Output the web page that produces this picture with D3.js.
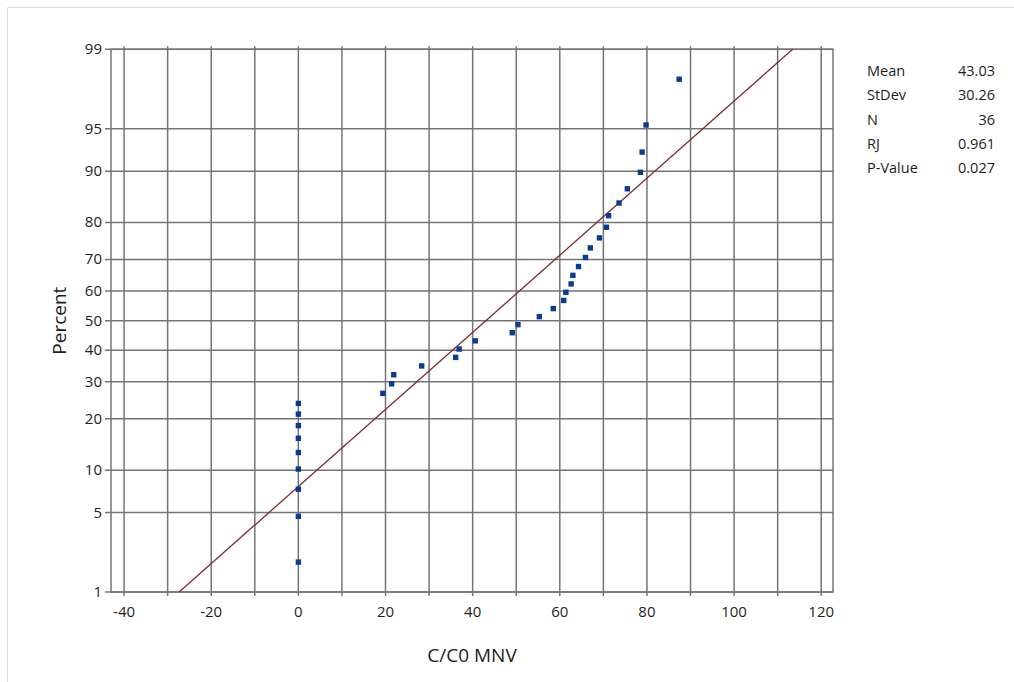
<!doctype html>
<html>
<head>
    <title>Probability Plot :: C/C0 MNV</title>
    <meta charset="utf-8">
    <script src="https://d3js.org/d3.v7.min.js"></script>
    <style>
        body { margin: 0; background: #fff; }
        svg { display: block; font-family: "Open Sans", "Noto Sans", sans-serif; }
        .grid line { stroke: #747474; stroke-width: 1.5; }
        .axis text { font-size: 15px; fill: #1e1e1e; }
    </style>
</head>
<body>
<svg width="1014" height="682"></svg>
<script>
    // sorted observations (9 ties at zero)
    let values = [0, 0, 0, 0, 0, 0, 0, 0, 0,
        19.4, 21.4, 21.9, 28.3, 36.1, 36.9, 40.6, 49.1, 50.4, 55.3, 58.5,
        60.9, 61.4, 62.6, 63.0, 64.3, 65.9, 67.0, 69.1, 70.7, 71.2, 73.6,
        75.5, 78.5, 78.9, 79.8, 87.4];
    let xTicks = [-40, -20, 0, 20, 40, 60, 80, 100, 120];
    let xGrid = [-40, -30, -20, -10, 0, 10, 20, 30, 40, 50, 60, 70, 80, 90, 100, 110, 120];
    let yTicks = [1, 5, 10, 20, 30, 40, 50, 60, 70, 80, 90, 95, 99];
    let statNames = ["Mean", "StDev", "N", "RJ", "P-Value"];
    let statValues = ["43.03", "30.26", "36", "0.961", "0.027"];
    let mean = 43.03, sd = 30.26;

    // inverse normal cdf (Acklam)
    function probit(p) {
        var a = [-3.969683028665376e+01, 2.209460984245205e+02, -2.759285104469687e+02, 1.383577518672690e+02, -3.066479806614716e+01, 2.506628277459239e+00];
        var b = [-5.447609879822406e+01, 1.615858368580409e+02, -1.556989798598866e+02, 6.680131188771972e+01, -1.328068155288572e+01];
        var c = [-7.784894002430293e-03, -3.223964580411365e-01, -2.400758277161838e+00, -2.549732539343734e+00, 4.374664141464968e+00, 2.938163982698783e+00];
        var d = [7.784695709041462e-03, 3.224671290700398e-01, 2.445134137142996e+00, 3.754408661907416e+00];
        var q, r;
        if (p < 0.02425) {
            q = Math.sqrt(-2 * Math.log(p));
            return (((((c[0]*q+c[1])*q+c[2])*q+c[3])*q+c[4])*q+c[5]) / ((((d[0]*q+d[1])*q+d[2])*q+d[3])*q+1);
        }
        if (p > 1 - 0.02425) {
            q = Math.sqrt(-2 * Math.log(1 - p));
            return -(((((c[0]*q+c[1])*q+c[2])*q+c[3])*q+c[4])*q+c[5]) / ((((d[0]*q+d[1])*q+d[2])*q+d[3])*q+1);
        }
        q = p - 0.5; r = q * q;
        return (((((a[0]*r+a[1])*r+a[2])*r+a[3])*r+a[4])*r+a[5])*q / (((((b[0]*r+b[1])*r+b[2])*r+b[3])*r+b[4])*r+1);
    }

    var pLeft = 111, pRight = 833, pTop = 49.3, pBottom = 592;
    var svg = d3.select("svg");

    // light outer frame
    svg.append("path").attr("d", "M7.5,682 V7.5 H1014").attr("fill", "none").attr("stroke", "#dcdcdc");

    var x = d3.scaleLinear().domain([-43, 122.7]).range([pLeft, pRight]);
    var z = d3.scaleLinear().domain([probit(0.01), probit(0.99)]).range([pBottom, pTop]);
    var y = p => z(probit(p / 100));

    var grid = svg.append("g").attr("class", "grid");
    grid.selectAll("line.v").data(xGrid).enter().append("line")
        .attr("x1", d => x(d)).attr("x2", d => x(d))
        .attr("y1", pTop - 3).attr("y2", pBottom + 4);
    grid.selectAll("line.h").data(yTicks).enter().append("line")
        .attr("x1", pLeft - 6).attr("x2", pRight)
        .attr("y1", d => y(d)).attr("y2", d => y(d));
    grid.append("rect").attr("x", pLeft).attr("y", pTop)
        .attr("width", pRight - pLeft).attr("height", pBottom - pTop)
        .attr("fill", "none").attr("stroke", "#747474").attr("stroke-width", 1.5);

    var ax = svg.append("g").attr("class", "axis");
    ax.selectAll("text.x").data(xTicks).enter().append("text")
        .attr("x", d => x(d)).attr("y", pBottom + 25)
        .attr("text-anchor", "middle").text(d => d);
    ax.selectAll("text.y").data(yTicks).enter().append("text")
        .attr("x", pLeft - 9).attr("y", d => y(d) + 5)
        .attr("text-anchor", "end").text(d => d);

    svg.append("text").attr("x", (pLeft + pRight) / 2).attr("y", 662)
        .attr("text-anchor", "middle").attr("font-size", 19).attr("fill", "#1e1e1e")
        .text("C/C0 MNV");
    svg.append("text").attr("transform", "translate(66," + y(50) + ") rotate(-90)")
        .attr("text-anchor", "middle").attr("font-size", 19).attr("fill", "#1e1e1e")
        .text("Percent");

    // fitted normal line
    var p0 = 0.01, p1 = 0.99;
    svg.append("line")
        .attr("x1", x(mean + sd * probit(p0))).attr("y1", y(p0 * 100))
        .attr("x2", x(mean + sd * probit(p1))).attr("y2", y(p1 * 100))
        .attr("stroke", "#7d2b2b").attr("stroke-width", 1.3);

    // points at Benard median ranks
    var n = values.length;
    svg.selectAll("rect.pt").data(values).enter().append("rect")
        .attr("class", "pt")
        .attr("x", d => x(d) - 2.7)
        .attr("y", (d, i) => y((i + 1 - 0.3) / (n + 0.4) * 100) - 2.7)
        .attr("width", 5.4).attr("height", 5.4)
        .attr("fill", "#0b3b8f");

    // stats box
    var st = svg.append("g").attr("font-size", 14.5).attr("fill", "#1e1e1e");
    st.selectAll("text.n").data(statNames).enter().append("text")
        .attr("x", 867).attr("y", (d, i) => 76 + i * 24.3).text(d => d);
    st.selectAll("text.v").data(statValues).enter().append("text")
        .attr("x", 995).attr("y", (d, i) => 76 + i * 24.3)
        .attr("text-anchor", "end").text(d => d);
</script>
</body>
</html>
